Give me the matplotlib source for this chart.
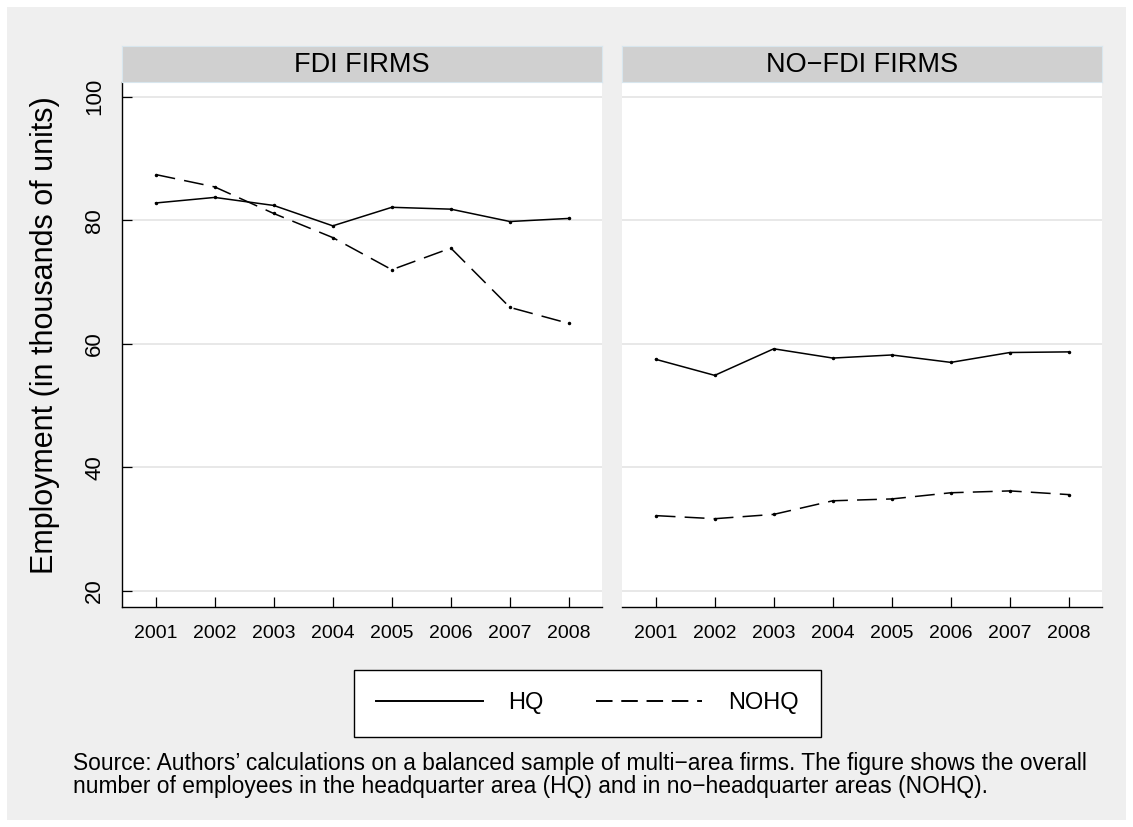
import numpy as np
import matplotlib
matplotlib.use("Agg")
import matplotlib.pyplot as plt
from matplotlib.patches import Rectangle
from matplotlib.lines import Line2D

plt.rcParams['font.family'] = ['Liberation Sans', 'DejaVu Sans']

years = [2001, 2002, 2003, 2004, 2005, 2006, 2007, 2008]
panels = ['FDI FIRMS', 'NO\u2212FDI FIRMS']

# employment, thousands of units
fdi_hq = [82.8, 83.7, 82.4, 79.1, 82.1, 81.8, 79.8, 80.3]
fdi_nohq = [87.4, 85.4, 81.1, 77.2, 72.0, 75.5, 65.9, 63.3]
nofdi_hq = [57.5, 54.9, 59.2, 57.7, 58.2, 57.0, 58.6, 58.7]
nofdi_nohq = [32.2, 31.7, 32.4, 34.6, 34.9, 35.9, 36.2, 35.6]

yticks = [20, 40, 60, 80, 100]

W, H = 1133, 827
fig = plt.figure(figsize=(W / 100, H / 100), dpi=100, facecolor='white')

# gray graph region (Stata style)
fig.patches.append(Rectangle((7 / W, 7 / H), (W - 14) / W, (H - 14) / H,
                             transform=fig.transFigure, facecolor='#efefef',
                             edgecolor='none', zorder=-10))


def px_box(x0, x1, ytop, ybot):
    return [x0 / W, 1 - ybot / H, (x1 - x0) / W, (ybot - ytop) / H]


series = [(fdi_hq, fdi_nohq), (nofdi_hq, nofdi_nohq)]
lefts = [(122, 602), (622, 1102)]
for i, ((hq, nohq), (x0, x1)) in enumerate(zip(series, lefts)):
    ax = fig.add_axes(px_box(x0, x1, 82, 607))
    ax.set_facecolor('white')
    ax.plot(years, hq, color='black', lw=1.1, marker='o', ms=1.5)
    ax.plot(years, nohq, color='black', lw=1.1, marker='o', ms=1.5, dashes=(13, 6))
    ax.set_xlim(2000.43, 2008.56)
    ax.set_ylim(17.41, 102.38)
    ax.set_xticks(years)
    ax.set_yticks(yticks)
    for y in yticks:
        ax.axhline(y, color='#e6e6e6', lw=1.3, zorder=0)
    for s in ['top', 'right']:
        ax.spines[s].set_visible(False)
    ax.spines['bottom'].set_linewidth(1.0)
    ax.spines['left'].set_linewidth(1.0)
    ax.tick_params(axis='x', direction='in', length=7, width=0.9, pad=13, labelsize=14)
    ax.tick_params(axis='y', direction='in', length=7, width=0.9, pad=12, labelsize=16)
    for lab in ax.get_yticklabels():
        lab.set_rotation(90)
        lab.set_va('center')
    if i == 1:
        ax.spines['left'].set_visible(False)
        ax.tick_params(axis='y', left=False, labelleft=False)
    # strip header
    sx = fig.add_axes(px_box(x0, x1, 46, 82))
    sx.set_facecolor('#d0d0d0')
    sx.set_xticks([])
    sx.set_yticks([])
    for s in sx.spines.values():
        s.set_edgecolor('#d8e6ee')
        s.set_linewidth(0.8)
    sx.text(0.5, 0.46, panels[i], ha='center', va='center', fontsize=19.5,
            transform=sx.transAxes)

fig.text(45 / W, 1 - 335 / H, 'Employment (in thousands of units)', rotation=90,
         ha='center', va='center', fontsize=22)

handles = [Line2D([], [], color='black', lw=1.4),
           Line2D([], [], color='black', lw=1.4, dashes=(8.5, 4.5))]
leg = fig.legend(handles=handles, labels=['HQ', 'NOHQ'], ncol=2,
                 loc='center', bbox_to_anchor=(587.5 / W, 1 - 703.5 / H),
                 fontsize=17, frameon=True, fancybox=False, handlelength=4.5,
                 handletextpad=1.1, columnspacing=2.2, borderpad=0.95)
leg.get_frame().set_edgecolor('black')
leg.get_frame().set_linewidth(1.0)
leg.get_frame().set_facecolor('white')
leg.get_frame().set_alpha(1)

caption = ("Source: Authors\u2019 calculations on a balanced sample of multi\u2212area firms. "
           "The figure shows the overall\n"
           "number of employees in the headquarter area (HQ) and in no\u2212headquarter areas (NOHQ).")
fig.text(73 / W, 1 - 752 / H, caption, ha='left', va='top', fontsize=16.4,
         linespacing=1.0)

fig.savefig('out.png', dpi=100, facecolor='white')
